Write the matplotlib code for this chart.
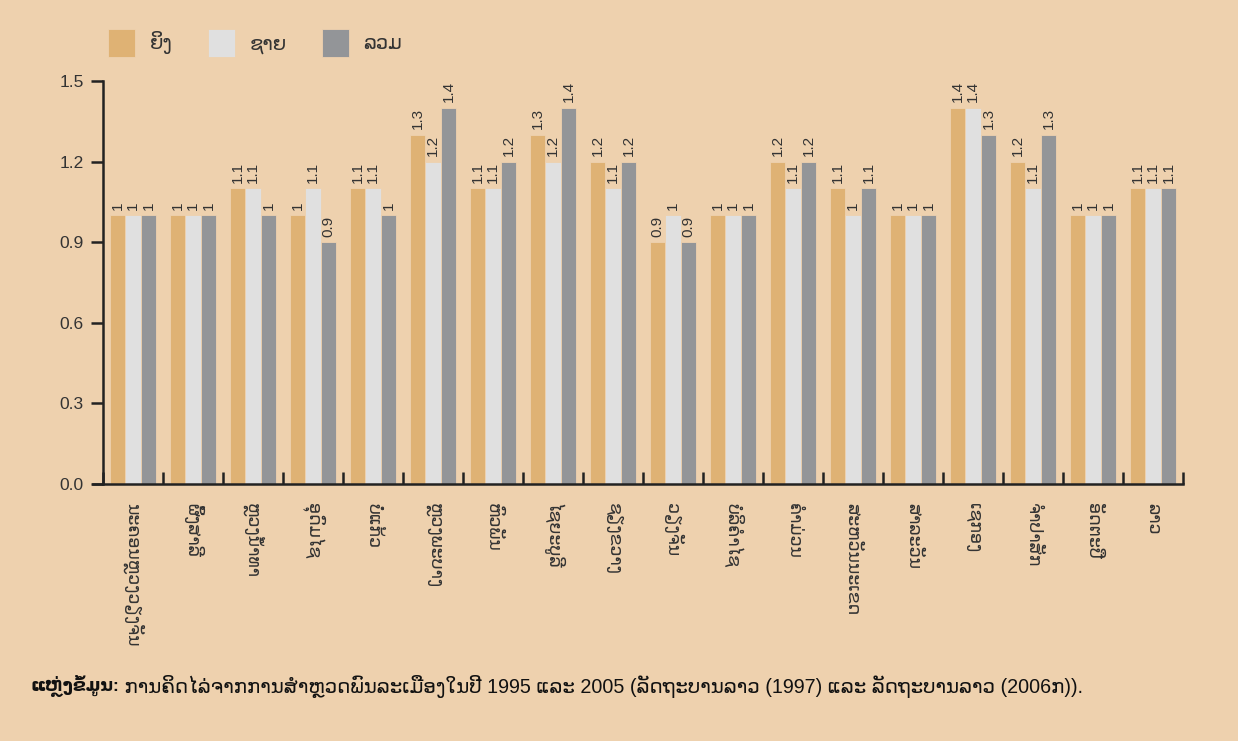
import numpy as np
import matplotlib
matplotlib.use("Agg")
import matplotlib.pyplot as plt

plt.rcParams['font.family'] = ['Liberation Sans', 'DejaVu Sans']

# province names (Lao)
provinces = ["ນະຄອນຫຼວງວຽງຈັນ", "ຜົ້ງສາລີ", "ຫຼວງນ້ຳທາ", "ອຸດົມໄຊ", "ບໍ່ແກ້ວ",
             "ຫຼວງພະບາງ", "ຫົວພັນ", "ໄຊຍະບູລີ", "ຊຽງຂວາງ", "ວຽງຈັນ",
             "ບໍລິຄຳໄຊ", "ຄຳມ່ວນ", "ສະຫວັນນະເຂດ", "ສາລະວັນ", "ເຊກອງ",
             "ຈຳປາສັກ", "ອັດຕະປື", "ລາວ"]
series_names = ["ຍິງ", "ຊາຍ", "ລວມ"]
female = [1, 1, 1.1, 1, 1.1, 1.3, 1.1, 1.3, 1.2, 0.9, 1, 1.2, 1.1, 1, 1.4, 1.2, 1, 1.1]
male = [1, 1, 1.1, 1.1, 1.1, 1.2, 1.1, 1.2, 1.1, 1, 1, 1.1, 1, 1, 1.4, 1.1, 1, 1.1]
total = [1, 1, 1, 0.9, 1, 1.4, 1.2, 1.4, 1.2, 0.9, 1, 1.2, 1.1, 1, 1.3, 1.3, 1, 1.1]
source_bold = "ແຫຼ່ງຂໍ້ມູນ:"
source_text = " ການຄິດໄລ່ຈາກການສຳຫຼວດພົນລະເມືອງໃນປີ 1995 ແລະ 2005 (ລັດຖະບານລາວ (1997) ແລະ ລັດຖະບານລາວ (2006ກ))."

bg = "#eed1ae"
colors = ["#dfb274", "#e0e0e0", "#939598"]
txt = "#333333"

fig = plt.figure(figsize=(12.38, 7.41), dpi=100, facecolor=bg)
ax = fig.add_axes([103/1238, 1-484/741, 1080/1238, 403/741])
ax.set_facecolor(bg)

x = np.arange(len(provinces))
w = 0.26
for i, (vals, name) in enumerate(zip([female, male, total], series_names)):
    bars = ax.bar(x + (i-1)*w, vals, w, color=colors[i], label=name,
                  edgecolor=bg, linewidth=0.6)
    ax.bar_label(bars, labels=[f"{v:g}" for v in vals], rotation=90,
                 padding=4, fontsize=11, color=txt)

ax.set_xlim(-0.5, len(provinces)-0.5)
ax.set_ylim(0, 1.5)
ax.set_yticks(np.arange(0, 1.51, 0.3))
ax.set_yticklabels([f"{v:.1f}" for v in np.arange(0, 1.51, 0.3)], fontsize=12.5, color=txt)
ax.tick_params(axis='y', direction='out', length=9, width=1.8, color="#222222", pad=5)

# ticks at group boundaries, names centered under groups
ax.set_xticks(np.arange(-0.5, len(provinces)), minor=False)
ax.set_xticklabels([])
ax.tick_params(axis='x', direction='in', length=9, width=1.8, color="#222222")
ax.set_xticks(x, minor=True)
ax.set_xticklabels(provinces, minor=True, rotation=270, fontsize=12.5,
                   color=txt, va='top', ha='center')
ax.tick_params(axis='x', which='minor', length=0, pad=14)

for s in ["top", "right"]:
    ax.spines[s].set_visible(False)
for s in ["left", "bottom"]:
    ax.spines[s].set_linewidth(1.8)
    ax.spines[s].set_color("#222222")
ax.spines["bottom"].set_bounds(-0.5 - 10/60, len(provinces)-0.5)

ax.legend(loc='center left', bbox_to_anchor=(108/1238, 1-43/741),
          bbox_transform=fig.transFigure, ncol=3, frameon=False,
          fontsize=14, handlelength=1.4, handleheight=1.9,
          handletextpad=0.75, columnspacing=1.8, borderpad=0,
          borderaxespad=0, labelcolor=txt)

t1 = fig.text(30/1238, 1-686/741, source_bold, fontsize=12.5, fontweight='bold',
              color="#111111", va='center')
fig.canvas.draw()
bb = t1.get_window_extent()
fig.text(bb.x1/1238, 1-686/741, source_text, fontsize=14.2, color="#111111", va='center')

fig.savefig("out.png", dpi=100, facecolor=bg)
